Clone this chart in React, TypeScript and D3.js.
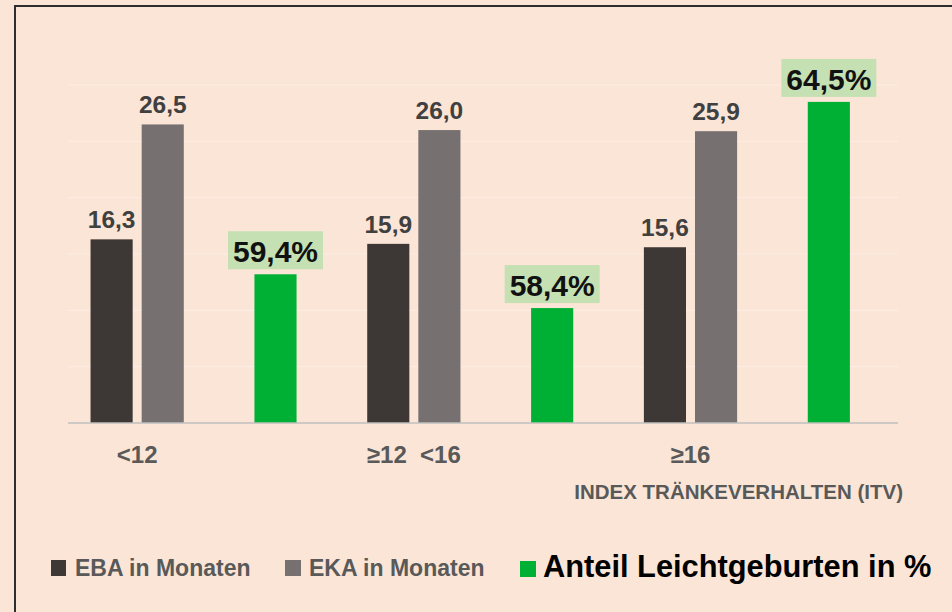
import React from "react";
import * as d3 from "d3";

const categories = ["<12", "", "≥12  <16", "", "≥16", ""];
const groupCats = ["<12", "≥12  <16", "≥16"];
const greenCats = ["g1", "g2", "g3"];
const seriesNames = ["EBA in Monaten", "EKA in Monaten"];
const ebaValues = [16.3, 15.9, 15.6];
const ekaValues = [26.5, 26.0, 25.9];
const leichtValues = [59.4, 58.4, 64.5];
const leftTicks = [0, 5, 10, 15, 20, 25, 30];
const greenLegend = "Anteil Leichtgeburten in %";
const axisTitle = "INDEX TRÄNKEVERHALTEN (ITV)";

const W = 952;
const H = 612;
const BG = "#fbe5d7";
const C_EBA = "#3d3835";
const C_EKA = "#767070";
const C_GREEN = "#00b035";
const FONT = "'Liberation Sans', Arial, Helvetica, sans-serif";

export default function App() {
  const catKeys = ["c0", "c1", "c2", "c3", "c4", "c5"];
  const x0 = d3.scaleBand<string>().domain(catKeys).range([68, 898]).padding(0);
  const bw = x0.bandwidth();
  const x1 = d3
    .scaleBand<string>()
    .domain(seriesNames)
    .range([bw * 0.163, bw * 0.837])
    .paddingInner(0.176)
    .paddingOuter(0);
  const barW = x1.bandwidth();
  const yL = d3.scaleLinear().domain([0, 30]).range([423, 85]);
  const yR = d3.scaleLinear().domain([55, 65]).range([423, 85]);
  const loc = d3.formatLocale({ decimal: ",", thousands: ".", grouping: [3], currency: ["", "€"] });
  const f1 = loc.format(".1f");

  const groupX = (i: number) => x0(catKeys[i * 2])!;
  const greenX = (i: number) => x0(catKeys[i * 2 + 1])!;

  return (
    <svg
      width={W}
      height={H}
      style={{ position: "absolute", left: 0, top: 0, display: "block" }}
      fontFamily={FONT}
    >
      <rect x={0} y={0} width={W} height={H} fill={BG} />
      <path d={`M15,${H} L15,6 L${W},6`} fill="none" stroke="#2e2e2e" strokeWidth={2} />

      {/* gridlines */}
      {leftTicks.slice(1).map((t) => (
        <line key={t} x1={68} x2={898} y1={yL(t)} y2={yL(t)} stroke="#ffffff" strokeOpacity={0.35} strokeWidth={1} />
      ))}

      {/* EBA / EKA bars */}
      {groupCats.map((c, i) => {
        const vals = [ebaValues[i], ekaValues[i]];
        return (
          <g key={c} transform={`translate(${groupX(i)},0)`}>
            {seriesNames.map((s, j) => (
              <g key={s}>
                <rect
                  x={x1(s)!}
                  y={yL(vals[j])}
                  width={barW}
                  height={yL(0) - yL(vals[j])}
                  fill={j === 0 ? C_EBA : C_EKA}
                />
                <text
                  x={x1(s)! + barW / 2}
                  y={yL(vals[j]) - 11}
                  textAnchor="middle"
                  fontSize={24.5}
                  fontWeight="bold"
                  fill="#404040"
                >
                  {f1(vals[j])}
                </text>
              </g>
            ))}
          </g>
        );
      })}

      {/* green bars */}
      {greenCats.map((g, i) => {
        const cx = greenX(i) + bw / 2;
        const top = yR(leichtValues[i]);
        return (
          <g key={g}>
            <rect x={cx - barW / 2} y={top} width={barW} height={yR(55) - top} fill={C_GREEN} />
            <rect x={cx - 47.5} y={top - 43} width={95} height={38} fill="#c5e0b3" />
            <text x={cx} y={top - 12} textAnchor="middle" fontSize={30} fontWeight="bold" fill="#111">
              {f1(leichtValues[i]) + "%"}
            </text>
          </g>
        );
      })}

      {/* baseline */}
      <line x1={68} x2={898} y1={423} y2={423} stroke="#bfbfbf" strokeWidth={1.5} />

      {/* category labels */}
      {categories.map((c, i) =>
        c ? (
          <text
            key={i}
            x={x0(catKeys[i])! + bw / 2}
            y={463}
            textAnchor="middle"
            fontSize={24}
            fontWeight="bold"
            fill="#595959"
            style={{ whiteSpace: "pre" }}
          >
            {c}
          </text>
        ) : null
      )}

      <text x={903} y={499} textAnchor="end" fontSize={20.5} fontWeight="bold" fill="#595959">
        {axisTitle}
      </text>

      {/* legend */}
      <rect x={51} y={560} width={15} height={16} fill={C_EBA} />
      <text x={75} y={576} fontSize={23} fontWeight="bold" fill="#595959">
        {seriesNames[0]}
      </text>
      <rect x={285} y={560} width={16} height={16} fill={C_EKA} />
      <text x={309} y={576} fontSize={23} fontWeight="bold" fill="#595959">
        {seriesNames[1]}
      </text>
      <rect x={520} y={561} width={16} height={16} fill={C_GREEN} />
      <text x={543} y={577} fontSize={30.8} fontWeight="bold" fill="#000">
        {greenLegend}
      </text>
    </svg>
  );
}
